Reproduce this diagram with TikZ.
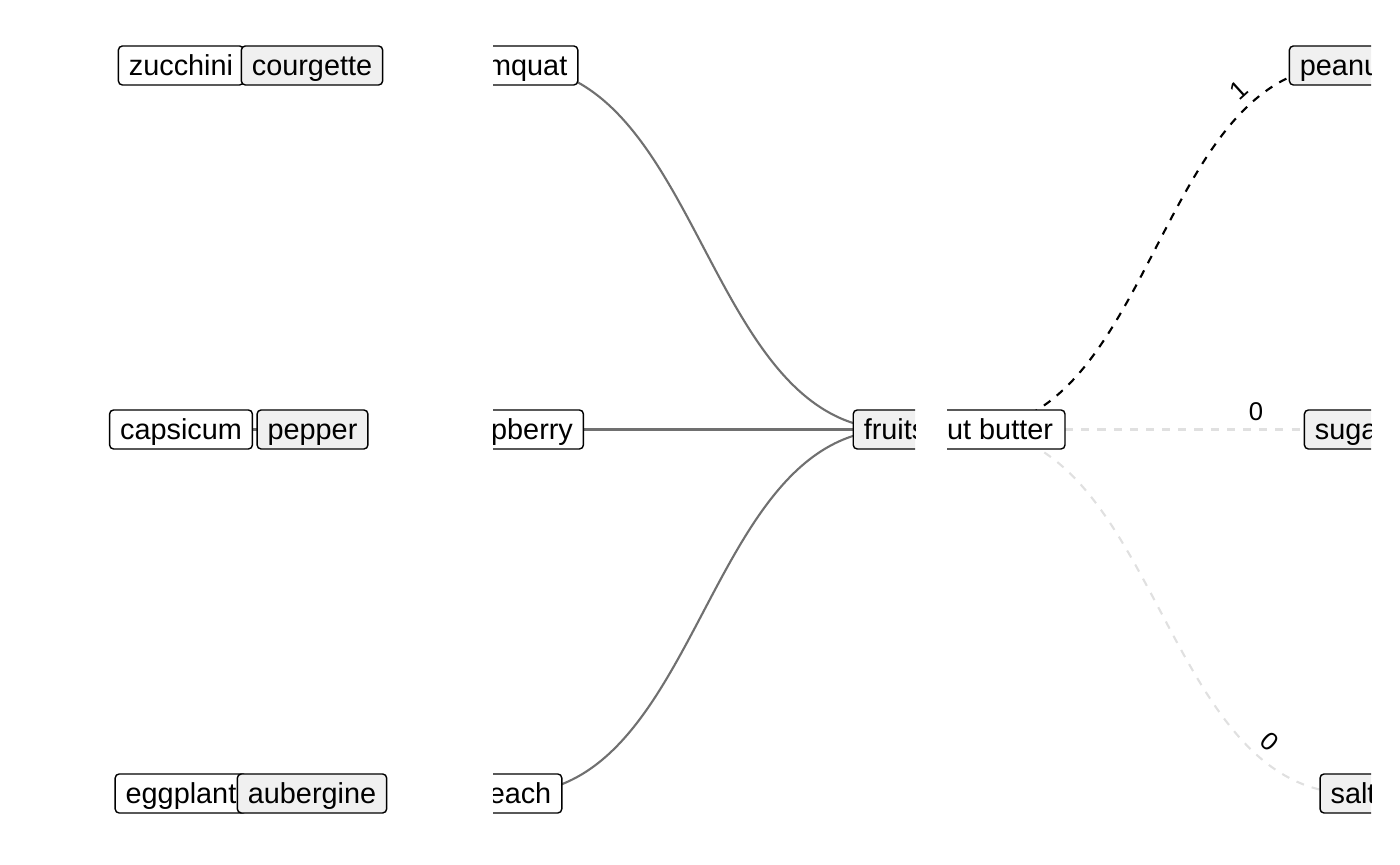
\documentclass[tikz,border=0pt]{standalone}
\usepackage{fontspec}
\setmainfont{Liberation Sans}
\usepackage{tikz}
\usetikzlibrary{backgrounds}
\definecolor{edgegrey}{RGB}{112,112,112}
\definecolor{faintgrey}{RGB}{224,224,224}
\definecolor{boxgrey}{RGB}{240,240,240}
\tikzset{
  lbl/.style={draw=black,line width=0.4pt,rounded corners=0.04cm,minimum height=0.39cm,
    inner xsep=0.105cm,inner ysep=0pt,text height=0.206cm,text depth=0pt,
    font=\fontsize{8.2}{9.8}\selectfont},
  fromlbl/.style={lbl,fill=white},
  tolbl/.style={lbl,fill=boxgrey},
  linkedge/.style={edgegrey,line width=0.6pt},
  pbedge/.style={line width=0.6pt,dash pattern=on 2.3pt off 2.3pt},
  wt/.style={black,font=\fontsize{7.3}{8.7}\selectfont,pos=0.8,sloped,above,inner sep=0.08cm}
}
\begin{document}
\begin{tikzpicture}[x=0.01cm,y=-0.01cm]
\useasboundingbox (0,0) rectangle (1400,865);
%% vegetables
\node[fromlbl] (zucchini) at (181,65.5) {zucchini};
\node[tolbl] (courgette) at (312,65.5) {courgette};
\node[fromlbl] (capsicum) at (181,429.5) {capsicum};
\node[tolbl] (pepper) at (312.5,429.5) {pepper};
\node[fromlbl] (eggplant) at (181,793.5) {eggplant};
\node[tolbl] (aubergine) at (312,793.5) {aubergine};
%% fruits
\begin{scope}
\clip (493,0) rectangle (915,865);
\node[fromlbl] (kumquat) at (512,65.5) {kumquat};
\node[fromlbl] (raspberry) at (512,429.5) {raspberry};
\node[fromlbl] (peach) at (512,793.5) {peach};
\node[tolbl] (fruits) at (895,429.5) {fruits};
\end{scope}
%% peanut butter
\begin{scope}
\clip (947,0) rectangle (1371,865);
\node[fromlbl,inner xsep=0.12cm] (pb) at (968,429.5) {peanut butter};
\node[tolbl] (peanut) at (1344,65.5) {peanut};
\node[tolbl] (sugar) at (1351,429.5) {sugar};
\node[tolbl] (salt) at (1353,793.5) {salt};
\end{scope}
\begin{pgfonlayer}{background}
\draw[linkedge] (zucchini.center)--(courgette.center);
\draw[linkedge] (capsicum.center)--(pepper.center);
\draw[linkedge] (eggplant.center)--(aubergine.center);
\draw[linkedge] (kumquat.center) .. controls +(191.5,0) and +(-191.5,0) .. (fruits.center);
\draw[linkedge] (raspberry.center) .. controls +(191.5,0) and +(-191.5,0) .. (fruits.center);
\draw[linkedge] (peach.center) .. controls +(191.5,0) and +(-191.5,0) .. (fruits.center);
\draw[pbedge,black] (pb.center) .. controls +(188,0) and +(-188,0) .. node[wt]{1} (peanut.center);
\draw[pbedge,faintgrey] (pb.center) .. controls +(191.5,0) and +(-191.5,0) .. node[wt]{0} (sugar.center);
\draw[pbedge,faintgrey] (pb.center) .. controls +(192.5,0) and +(-192.5,0) .. node[wt]{0} (salt.center);
\end{pgfonlayer}
\end{tikzpicture}
\end{document}
